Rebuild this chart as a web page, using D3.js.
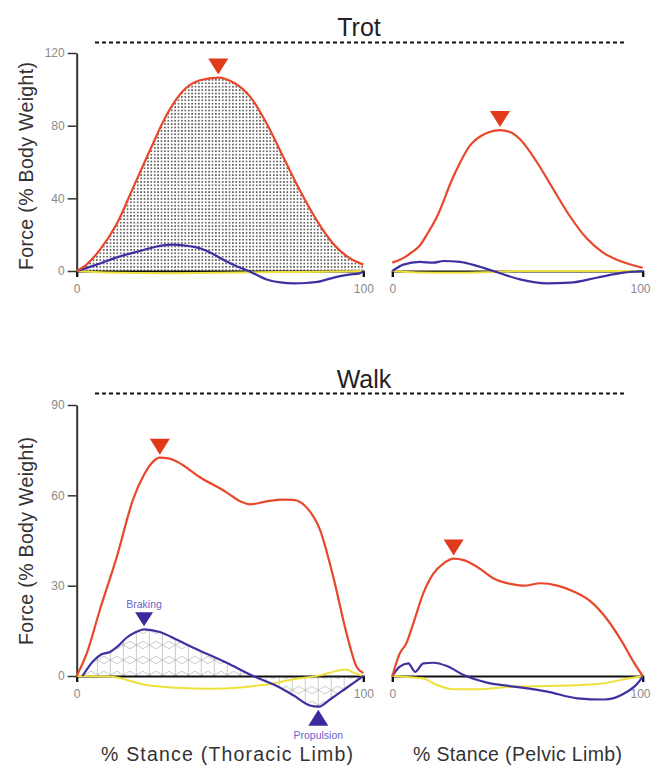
<!DOCTYPE html>
<html>
<head>
<meta charset="utf-8">
<script src="https://cdn.jsdelivr.net/npm/d3@7"></script>
<style>
  html, body { margin: 0; padding: 0; background: #fff; }
  svg { display: block; font-family: "Liberation Sans", Arial, Helvetica, sans-serif; }
</style>
</head>
<body>
<svg id="chart" width="651" height="767"></svg>
<script>
// ---------- DATA (x = % stance, y = force % body weight) ----------
const gaits = ["Trot", "Walk"];
const limbs = ["% Stance (Thoracic Limb)", "% Stance (Pelvic Limb)"];
const trotTicks = [0, 40, 80, 120];
const walkTicks = [0, 30, 60, 90];
const stanceTicks = [0, 100];

// Trot, thoracic limb
const trotThoracicVertical = [[0,0],[3,3],[8,11.5],[14,26],[20,47],[26,68],[31.4,86],[37,99],[43,105],[49.4,106.5],[55,103.5],[60.5,96],[66,82],[72,63],[78,44],[83.7,28],[89.5,15],[95.3,7],[100,3.5]];
const trotThoracicCraniocaudal = [[0,0],[7,3.5],[14,7.5],[22,11],[28,13.5],[33,14.5],[38,14],[43,12.5],[48,9],[52,5.5],[56,2.5],[60,0],[66,-4.5],[71,-6.3],[76,-6.8],[80,-6.6],[84,-6],[90.7,-3.2],[95,-2],[98.8,-1.3],[100,0]];
const trotThoracicMediolateral = [[0,0],[10,-0.8],[30,-1.2],[50,-1],[70,-0.6],[90,-0.3],[100,0]];

// Trot, pelvic limb
const trotPelvicVertical = [[0,4.6],[4,6.8],[8,10.5],[11,14],[14,20.5],[17.7,29.5],[24.4,52],[31,69],[37.7,76],[43,77.6],[47,76.5],[51,72.5],[57.7,60],[64.3,45],[71,30],[77.6,18],[84.3,10],[91,5.5],[100,1.8]];
const trotPelvicCraniocaudal = [[0,0],[4.4,3.5],[11,5],[16.4,4.6],[20.4,5.5],[27,5],[33.7,2.8],[40.3,0],[51,-4.6],[61.7,-6.8],[71,-6.4],[81.6,-3.7],[92.3,-0.9],[100,0]];
const trotPelvicMediolateral = [[0,0],[10,-0.8],[25,-1],[40,-0.5],[50,0],[100,0]];

// Walk, thoracic limb
const walkThoracicVertical = [[0,0],[3.5,7.5],[8.1,22],[14,39.6],[19.8,59],[23.3,66.5],[26,70.5],[29,72.5],[32,72.3],[34.9,71.2],[43,66],[52.3,61],[57,58],[60.5,57],[66.3,58],[72,58.6],[75.6,58.5],[80.2,56],[84.9,48.5],[89.5,33],[94.2,14],[97.7,3],[100,1]];
const walkThoracicCraniocaudal = [[2,0],[5.8,5],[8.7,7.2],[11.6,8],[14.5,10],[17.4,12.7],[20.5,14.5],[23.5,15.5],[29,14.6],[35,12],[40.7,9.4],[52.3,4.4],[61.6,0],[69.8,-3.3],[75.6,-6.4],[81.4,-9.8],[84.3,-10.2],[88.4,-7.8],[94.2,-3.9],[100,0]];
const walkThoracicMediolateral = [[0,0],[11.6,-0.2],[17.4,-1.3],[23.3,-2.8],[34.9,-3.9],[46.5,-4.2],[58,-3.7],[66.3,-2.8],[75.6,-1.1],[84.9,0.2],[90.7,1.7],[94.2,2.2],[96.5,1.1],[100,0]];

// Walk, pelvic limb
const walkPelvicVertical = [[0,0],[3,7.5],[5.7,11],[8.4,17.5],[12.4,27.5],[16.4,34],[20.5,37.4],[24.5,39],[28.5,38.5],[33.8,36.3],[40.5,32.4],[47.2,30.6],[52.5,30],[59.2,30.8],[65.9,30],[72.6,28],[79.3,24.7],[86,18.6],[91.3,12],[96.7,4.2],[100,0]];
const walkPelvicCraniocaudal = [[0,0],[3,3.1],[6.4,4.2],[9.1,1.4],[12.4,4.2],[16.4,4.4],[21.8,3.3],[28.5,0.3],[37.8,-2.2],[48.5,-3.5],[61.9,-5.2],[73.9,-7.4],[84.6,-7.8],[92.6,-5.8],[98,-2.4],[100,-0.2]];
const walkPelvicMediolateral = [[0,0],[7,-0.4],[12.4,-0.8],[17.8,-3],[24.5,-4.4],[35.2,-4.4],[48.5,-3.5],[62,-3.3],[75.3,-3],[84.6,-2.4],[92.6,-1.1],[100,0]];

const annotations = ["Braking", "Propulsion"];
const yTitle = "Force (% Body Weight)";

// ---------- STYLE ----------
const RED = "#e8472a", RED_MARK = "#e2391a";
const BLUE = "#3d31a2", BLUE_MARK = "#3a2b9c", BLUE_TEXT = "#6c64c8";
const YELLOW = "#f0e03c";

const svg = d3.select("#chart");
const defs = svg.append("defs");

// dotted pattern
const dots = defs.append("pattern").attr("id", "dots")
  .attr("patternUnits", "userSpaceOnUse").attr("width", 3.4).attr("height", 3.4);
dots.append("circle").attr("cx", 1.7).attr("cy", 1.7).attr("r", 0.8).attr("fill", "#222");

// triangular grid pattern (vertical lines + ±30° diagonals)
const A = 15, D = A * Math.sqrt(3) / 2, S = A / 2 / D;
const tri = defs.append("pattern").attr("id", "tri")
  .attr("patternUnits", "userSpaceOnUse").attr("width", D).attr("height", A);
const c = D / 2, x0 = -2, x1 = D + 2;
const triPath = [
  `M${c},-2V${A + 2}`,
  ...[0, A].map(k => `M${x0},${k + S * (x0 - c)}L${x1},${k + S * (x1 - c)}`),
  ...[0, A].map(k => `M${x0},${k - S * (x0 - c)}L${x1},${k - S * (x1 - c)}`)
].join(" ");
tri.append("path").attr("d", triPath)
  .attr("stroke", "#bdbdbd").attr("stroke-width", 0.8).attr("fill", "none");

// ---------- SCALES ----------
const xLeft = d3.scaleLinear().domain([0, 100]).range([76.7, 363.3]);
const xRight = d3.scaleLinear().domain([0, 100]).range([392.3, 642.7]);
const yTrot = d3.scaleLinear().domain([0, 120]).range([271, 53]);
const yWalk = d3.scaleLinear().domain([0, 90]).range([676, 405]);

const curve = d3.curveMonotoneX;

function lineGen(x, y) {
  return d3.line().x(d => x(d[0])).y(d => y(d[1])).curve(curve);
}
function areaGen(x, y) {
  return d3.area().x(d => x(d[0])).y0(y(0)).y1(d => y(d[1])).curve(curve);
}

// ---------- TITLES & DASHED LINES ----------
function header(text, cx, baseline, dashY) {
  svg.append("text").attr("x", cx).attr("y", baseline).attr("text-anchor", "middle")
    .attr("font-size", 25).attr("fill", "#222").text(text);
  svg.append("line").attr("x1", 95).attr("x2", 625).attr("y1", dashY).attr("y2", dashY)
    .attr("stroke", "#111").attr("stroke-width", 2).attr("stroke-dasharray", "4,3");
}
header(gaits[0], 359, 36, 42.5);
header(gaits[1], 364, 388, 393.5);

// ---------- Y AXES ----------
function yAxis(y, ticks, labelCenterY) {
  const g = svg.append("g").attr("transform", `translate(${xLeft(0)},0)`)
    .call(d3.axisLeft(y).tickValues(ticks).tickSize(9).tickSizeOuter(0).tickPadding(3));
  g.select(".domain").attr("stroke", "#333").attr("stroke-width", 2);
  g.selectAll(".tick line").attr("stroke", "#333").attr("stroke-width", 1.5);
  g.selectAll(".tick text").attr("fill", "#8a8a8a").attr("font-size", 12)
    .attr("font-family", "Liberation Sans, Arial, sans-serif");
  svg.append("text")
    .attr("transform", `translate(33,${labelCenterY}) rotate(-90)`)
    .attr("text-anchor", "middle").attr("font-size", 19.5).attr("fill", "#333")
    .attr("textLength", 208).attr("lengthAdjust", "spacing")
    .text(yTitle);
}
yAxis(yTrot, trotTicks, 166);
yAxis(yWalk, walkTicks, 541);

// ---------- PANELS ----------
function xAxis(x, y, isRight) {
  const g = svg.append("g").attr("transform", `translate(0,${y(0)})`)
    .call(d3.axisBottom(x).tickValues(stanceTicks).tickSize(6).tickSizeOuter(6).tickPadding(7.5));
  g.select(".domain").attr("stroke", "#111").attr("stroke-width", 2);
  g.selectAll(".tick line").attr("stroke", "#111").attr("stroke-width", 2);
  g.selectAll(".tick text").attr("fill", "#8a8a8a").attr("font-size", 12)
    .attr("font-family", "Liberation Sans, Arial, sans-serif");
  if (isRight) {
    // keep the right-edge "100" label inside the picture
    g.selectAll(".tick text").filter(d => d === 100).attr("text-anchor", "end").attr("x", 650 - x(100));
  }
}

function panel(x, y, vertical, cc, ml, fillVertical, fillCC, isRight) {
  if (fillVertical) {
    svg.append("path").datum(vertical).attr("d", areaGen(x, y)).attr("fill", "url(#dots)");
  }
  if (fillCC) {
    svg.append("path").datum(cc).attr("d", areaGen(x, y)).attr("fill", "url(#tri)");
  }
  xAxis(x, y, isRight);
  svg.append("path").datum(ml).attr("d", lineGen(x, y))
    .attr("fill", "none").attr("stroke", YELLOW).attr("stroke-width", 2);
  svg.append("path").datum(cc).attr("d", lineGen(x, y))
    .attr("fill", "none").attr("stroke", BLUE).attr("stroke-width", 2.2);
  svg.append("path").datum(vertical).attr("d", lineGen(x, y))
    .attr("fill", "none").attr("stroke", RED).attr("stroke-width", 2.2);

  // peak marker on vertical force
  const peak = d3.greatest(vertical, d => d[1]);
  const px = x(peak[0]), py = y(peak[1]) - 3;
  svg.append("path").attr("d", `M${px},${py}L${px - 10},${py - 16}L${px + 10},${py - 16}Z`)
    .attr("fill", RED_MARK);
}

panel(xLeft, yTrot, trotThoracicVertical, trotThoracicCraniocaudal, trotThoracicMediolateral, true, false, false);
panel(xRight, yTrot, trotPelvicVertical, trotPelvicCraniocaudal, trotPelvicMediolateral, false, false, true);
panel(xLeft, yWalk, walkThoracicVertical, walkThoracicCraniocaudal, walkThoracicMediolateral, false, true, false);
panel(xRight, yWalk, walkPelvicVertical, walkPelvicCraniocaudal, walkPelvicMediolateral, false, false, true);

// braking / propulsion markers (walk thoracic craniocaudal)
const brake = d3.greatest(walkThoracicCraniocaudal, d => d[1]);
const bx = xLeft(brake[0]), by = yWalk(brake[1]) - 3;
svg.append("path").attr("d", `M${bx},${by}L${bx - 9},${by - 14}L${bx + 9},${by - 14}Z`).attr("fill", BLUE_MARK);
svg.append("text").attr("x", bx).attr("y", by - 18).attr("text-anchor", "middle")
  .attr("font-size", 10.5).attr("fill", BLUE_TEXT).text(annotations[0]);

const prop = d3.least(walkThoracicCraniocaudal, d => d[1]);
const qx = xLeft(prop[0]), qy = yWalk(prop[1]) + 3;
svg.append("path").attr("d", `M${qx},${qy}L${qx - 10},${qy + 16}L${qx + 10},${qy + 16}Z`).attr("fill", BLUE_MARK);
svg.append("text").attr("x", qx).attr("y", qy + 29).attr("text-anchor", "middle")
  .attr("font-size", 10.5).attr("fill", BLUE_TEXT).text(annotations[1]);

// ---------- X TITLES ----------
svg.append("text").attr("x", 227).attr("y", 761).attr("text-anchor", "middle")
  .attr("font-size", 19.5).attr("fill", "#333")
  .attr("textLength", 252).attr("lengthAdjust", "spacing").text(limbs[0]);
svg.append("text").attr("x", 517.5).attr("y", 761).attr("text-anchor", "middle")
  .attr("font-size", 19.5).attr("fill", "#333")
  .attr("textLength", 209).attr("lengthAdjust", "spacing").text(limbs[1]);
</script>
</body>
</html>
